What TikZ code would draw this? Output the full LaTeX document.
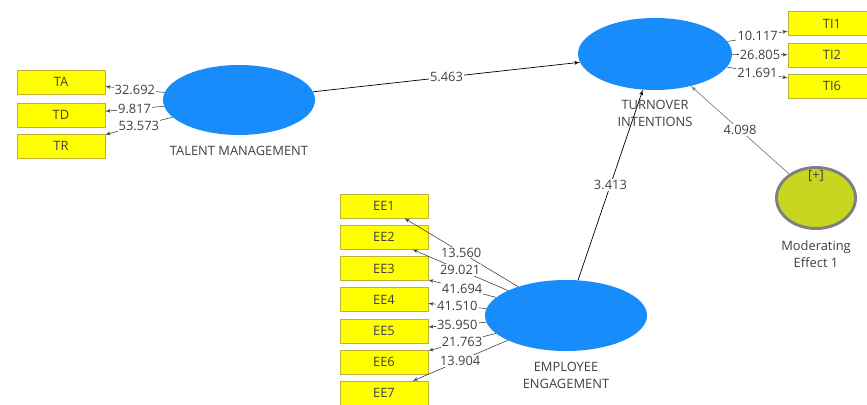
\documentclass[tikz,border=0pt]{standalone}
\usepackage{fontspec}
\setmainfont{Open Sans}
\usetikzlibrary{positioning}
\usetikzlibrary{shapes,arrows}
\definecolor{lvblue}{RGB}{24,140,250}
\definecolor{mvyellow}{RGB}{255,255,0}
\definecolor{modgreen}{RGB}{200,214,32}
\definecolor{modrim}{RGB}{128,128,128}
\definecolor{txtgray}{RGB}{64,64,64}
\newcommand{\plsfont}{\fontsize{11}{14}\selectfont}
\tikzset{
latent/.style = {fill=lvblue, ellipse, inner sep=0pt},
indicator/.style = {draw=yellow!70!black, fill=mvyellow, rectangle, minimum width=2.64cm, minimum height=0.72cm, inner sep=0pt, font=\plsfont, text=txtgray},
moderator/.style = {draw=modrim, line width=2.5pt, fill=modgreen, ellipse, inner sep=0pt, minimum width=2.37cm, minimum height=1.83cm},
lvname/.style = {font=\plsfont, text=txtgray, align=center, inner sep=0pt},
coef/.style = {fill=white, inner sep=1pt, font=\plsfont, text=txtgray},
loading/.style = {draw=txtgray, ->, line width=0.5pt},
structural/.style = {draw=black, ->, line width=0.6pt}
}

\begin{document}
\begin{tikzpicture}[x=0.03cm, y=-0.03cm, >=latex']
    \useasboundingbox (0,0) rectangle (867,405);
    \clip (0,0) rectangle (867,405);
    % latent variables
    \node [latent, minimum width=4.56cm, minimum height=2.1cm] (tm) at (239,100) {};
    \node [latent, minimum width=4.62cm, minimum height=2.16cm] (to) at (655,54) {};
    \node [latent, minimum width=4.86cm, minimum height=2.13cm] (ee) at (566,315.5) {};
    \node [moderator] (mod) at (816,198) {};
    \node [lvname] at (816,176) {[+]};

    \node [lvname, below=0.33cm of tm] (tmname) {TALENT MANAGEMENT};
    \node [lvname, below=0.3cm of to] (toname) {TURNOVER\\INTENTIONS};
    \node [lvname, below=0.33cm of ee] (eename) {EMPLOYEE\\ENGAGEMENT};
    \node [lvname, below=0.33cm of mod] (modname) {Moderating\\Effect 1};

    % indicators
    \node [indicator] (ta) at (61,82) {TA};
    \node [indicator] (td) at (61,115) {TD};
    \node [indicator] (tr) at (61,146) {TR};
    \node [indicator] (ti1) at (832,23.5) {TI1};
    \node [indicator] (ti2) at (832,55) {TI2};
    \node [indicator] (ti6) at (832,86) {TI6};
    \foreach \i in {1,...,7}
        \node [indicator] (ee\i) at (384,{206+31.2*(\i-1)}) {EE\i};

    % outer loadings
    \foreach \m/\v in {ta/32.692, td/9.817, tr/53.573}
        \draw [loading] (tm) -- node [coef] {\v} (\m);
    \foreach \m/\v in {ti1/10.117, ti2/26.805, ti6/21.691}
        \draw [loading] (to) -- node [coef] {\v} (\m);
    \foreach \i/\v in {1/13.560, 2/29.021, 3/41.694, 4/41.510, 5/35.950, 6/21.763, 7/13.904}
        \draw [loading] (ee) -- node [coef] {\v} (ee\i);

    % inner model
    \draw [structural] (tm) -- node [coef] {5.463} (to);
    \draw [structural] (ee) -- node [coef] {3.413} (to);
    \draw [structural, draw=modrim] (mod) -- node [coef] {4.098} (to);
\end{tikzpicture}
\end{document}
